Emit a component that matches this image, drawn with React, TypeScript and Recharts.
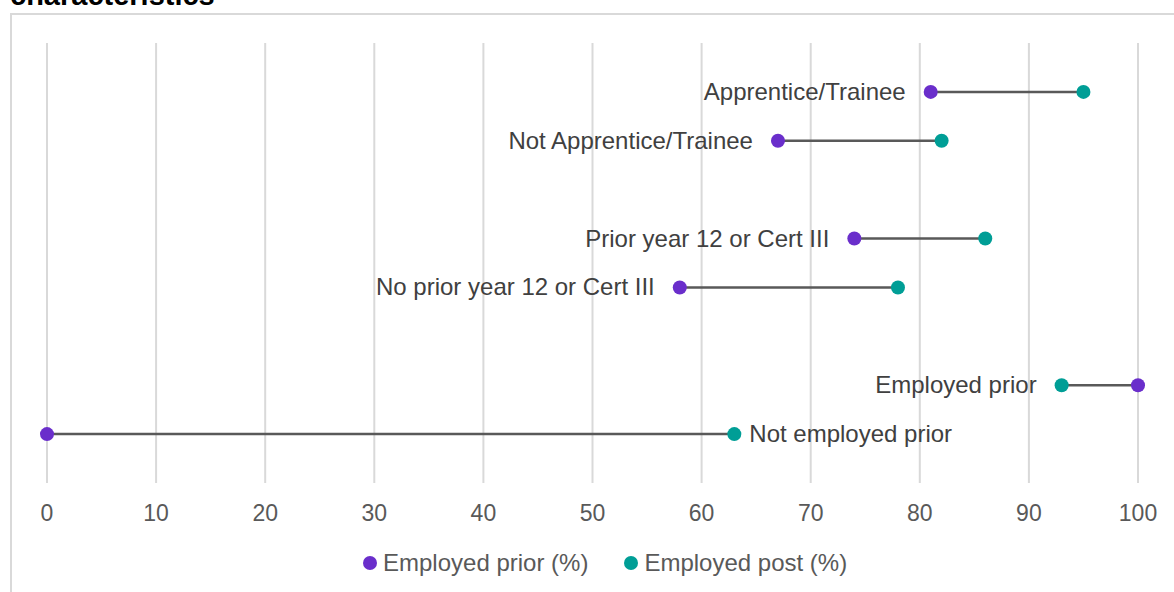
import React from "react";
import {
  ScatterChart,
  Scatter,
  XAxis,
  YAxis,
  CartesianGrid,
  ReferenceLine,
  Legend,
} from "recharts";

const categories = [
  "Apprentice/Trainee",
  "Not Apprentice/Trainee",
  "Prior year 12 or Cert III",
  "No prior year 12 or Cert III",
  "Employed prior",
  "Not employed prior",
];
const groups = [0, 0, 1, 1, 2, 2];
const employedPrior = [81, 67, 74, 58, 100, 0];
const employedPost = [95, 82, 86, 78, 93, 63];
const xTicks = [0, 10, 20, 30, 40, 50, 60, 70, 80, 90, 100];

const PURPLE = "#6A2ECB";
const TEAL = "#009E96";
const FONT = "'Liberation Sans', Arial, sans-serif";

const rows = categories.map((name, i) => ({
  name,
  y: i + groups[i] + 1,
  prior: employedPrior[i],
  post: employedPost[i],
}));

const priorData = rows.map((r) => ({ x: r.prior, y: r.y, name: r.name }));
const postData = rows.map((r) => ({ x: r.post, y: r.y, name: r.name }));
const labelData = rows.map((r) => {
  const lo = Math.min(r.prior, r.post);
  const hi = Math.max(r.prior, r.post);
  const right = lo === 0;
  return { x: right ? hi : lo, y: r.y, name: r.name, right };
});

const Dot = (color: string) => (props: any) =>
  <circle cx={props.cx} cy={props.cy} r={7} fill={color} />;

const LabelShape = (props: any) => {
  const { cx, cy, payload } = props;
  const right = payload.right;
  return (
    <text
      x={right ? cx + 15 : cx - 25}
      y={cy + 8}
      textAnchor={right ? "start" : "end"}
      fontFamily={FONT}
      fontSize={24}
      fill="#404040"
    >
      {payload.name}
    </text>
  );
};

const LegendContent = () => (
  <div style={{ display: "flex", fontFamily: FONT, fontSize: 24, color: "#595959", alignItems: "center" }}>
    {[
      { label: "Employed prior (%)", color: PURPLE },
      { label: "Employed post (%)", color: TEAL },
    ].map((it, i) => (
      <div key={i} style={{ display: "flex", alignItems: "center", marginRight: 36 }}>
        <div style={{ width: 14, height: 14, borderRadius: 7, background: it.color, marginRight: 6 }} />
        <span>{it.label}</span>
      </div>
    ))}
  </div>
);

export default function App() {
  return (
    <div style={{ position: "absolute", left: 0, top: 0, width: 1174, height: 592, overflow: "hidden", background: "#fff" }}>
      <div
        style={{
          position: "absolute",
          left: 10,
          top: -19,
          fontFamily: FONT,
          fontWeight: "bold",
          fontSize: 29,
          lineHeight: "29px",
          color: "#000",
          whiteSpace: "nowrap",
        }}
      >
        characteristics
      </div>
      <div
        style={{
          position: "absolute",
          left: 10,
          top: 13,
          width: 1200,
          height: 700,
          border: "2px solid #d9d9d9",
          boxSizing: "border-box",
        }}
      />
      <div style={{ position: "absolute", left: 0, top: 0 }}>
        <ScatterChart width={1174} height={592} margin={{ top: 43, right: 36, bottom: 79, left: 47 }}>
          <CartesianGrid horizontal={false} vertical stroke="#d9d9d9" strokeWidth={2} />
          <XAxis
            type="number"
            dataKey="x"
            domain={[0, 100]}
            ticks={xTicks}
            height={30}
            axisLine={false}
            tickLine={false}
            tickSize={6}
            tickMargin={16}
            tick={{ fontFamily: FONT, fontSize: 23, fill: "#595959" }}
            interval={0}
          />
          <YAxis type="number" dataKey="y" domain={[0, 9]} reversed hide />
          {rows.map((r, i) => (
            <ReferenceLine
              key={i}
              segment={[
                { x: r.prior, y: r.y },
                { x: r.post, y: r.y },
              ]}
              stroke="#595959"
              strokeWidth={2.5}
              ifOverflow="visible"
            />
          ))}
          <Scatter name="Employed prior (%)" data={priorData} fill={PURPLE} shape={Dot(PURPLE)} isAnimationActive={false} />
          <Scatter name="Employed post (%)" data={postData} fill={TEAL} shape={Dot(TEAL)} isAnimationActive={false} />
          <Scatter name="labels" data={labelData} shape={LabelShape} isAnimationActive={false} legendType="none" />
          <Legend
            verticalAlign="middle"
            align="center"
            layout="horizontal"
            content={LegendContent}
            wrapperStyle={{ left: 363, top: 549, width: 600 }}
          />
        </ScatterChart>
      </div>
    </div>
  );
}
